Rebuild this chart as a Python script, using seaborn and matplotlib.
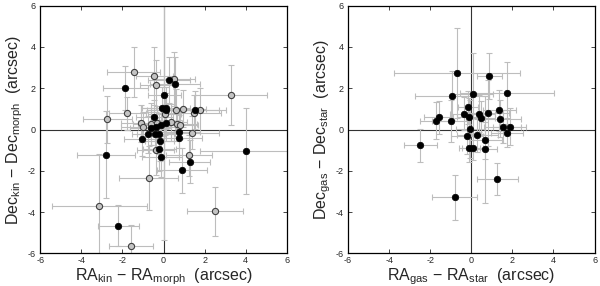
import numpy as np
import pandas as pd
import matplotlib
matplotlib.use('Agg')
import matplotlib.pyplot as plt
import seaborn as sns

# ── Left panel: kinematic vs morphological centre offsets ─────
kin_x = [-1.45, -0.46, -0.36, 0.53, -1.76, -2.73, 3.28, 0.96, 0.59, 1.80,
         1.48, 0.06, -1.09, -0.98, -0.60, 0.36, 0.65, 0.78, 1.38, -0.38,
         1.24, -0.72, -3.12, 2.51, -1.56, -0.33,
         -1.85, 0.27, 0.56, 0.04, -0.05, 0.10, 0.12, 1.53, -0.45, 0.12,
         -0.14, -0.36, -0.62, -0.74, -0.40, -0.24, -1.03, -0.19, 0.77, 0.75,
         -0.20, -0.14, -2.79, 1.27, 4.00, 0.90, -2.21]
kin_y = [2.80, 2.60, 2.15, 2.44, 0.79, 0.50, 1.67, 1.01, 0.95, 0.93,
         0.79, 0.75, 0.30, 0.14, 0.27, 0.35, 0.25, 0.22, -0.15, -1.01,
         -1.24, -2.37, -3.70, -3.96, -5.62, 0.33,
         2.03, 2.40, 2.22, 1.67, 1.05, 1.05, 0.95, 0.95, 0.62, 0.34,
         0.23, 0.14, 0.07, -0.22, -0.23, -0.20, -0.48, -0.54, -0.10, -0.43,
         -0.93, -1.32, -1.22, -1.55, -1.04, -1.98, -4.65]
kin_xerr = [1.30, 0.90, 0.80, 1.00, 0.90, 1.20, 1.75, 1.10, 1.20, 0.90,
            1.30, 0.80, 1.00, 1.10, 0.90, 0.80, 1.00, 0.90, 1.30, 0.90,
            1.10, 1.43, 2.30, 1.35, 1.07, 0.90,
            1.10, 1.00, 1.20, 0.80, 1.00, 1.20, 0.90, 1.50, 0.90, 0.80,
            1.00, 0.90, 1.00, 0.80, 0.90, 0.80, 0.90, 0.70, 1.00, 1.10,
            0.80, 0.90, 1.40, 1.00, 2.20, 1.20, 1.00]
kin_yerr = [1.20, 1.40, 1.20, 1.30, 0.80, 1.15, 1.45, 0.90, 1.00, 1.10,
            0.90, 1.00, 0.90, 0.70, 1.00, 0.90, 0.80, 0.70, 0.80, 1.20,
            1.00, 1.55, 2.50, 1.20, 1.00, 0.80,
            1.07, 1.10, 1.30, 7.00, 1.00, 1.00, 0.80, 0.90, 0.80, 0.90,
            0.80, 0.70, 0.80, 0.90, 0.80, 1.00, 0.80, 1.00, 0.80, 0.90,
            1.10, 1.00, 2.10, 1.05, 2.10, 1.10, 1.00]
kin_kind = ['open'] * 26 + ['filled'] * 27

# ── Right panel: gas vs stellar centre offsets ─────────────────
gas_x = [-0.70, 0.87, -0.95, 0.07, 1.74, -0.17, -0.36, -0.12, -1.58, -1.71,
         -1.00, 0.36, 0.46, 0.83, 1.37, 1.42, 1.52, 1.86, -0.04, -0.21,
         0.28, 1.74, -2.49, -0.10, 0.06, 0.67, 0.65, 1.27, -0.80]
gas_y = [2.74, 2.60, 1.64, 1.74, 1.77, 1.09, 0.77, 0.62, 0.59, 0.43,
         0.41, 0.77, 0.57, 0.80, 0.93, 0.52, 0.14, 0.14, 0.02, -0.30,
         -0.27, -0.15, -0.77, -0.88, -0.88, -0.52, -0.95, -2.40, -3.29]
gas_xerr = [3.07, 0.60, 1.80, 1.00, 2.30, 0.50, 0.70, 0.60, 0.70, 0.80,
            0.90, 0.80, 0.70, 1.00, 0.80, 1.00, 0.90, 0.80, 0.70, 0.80,
            1.00, 0.80, 0.80, 0.50, 0.50, 0.80, 0.60, 1.00, 1.10]
gas_yerr = [2.17, 1.10, 1.20, 1.95, 1.50, 0.80, 0.80, 0.90, 0.80, 0.90,
            1.00, 0.90, 0.80, 1.60, 1.00, 0.90, 0.80, 0.90, 1.40, 0.90,
            0.80, 0.70, 0.80, 0.70, 0.60, 0.90, 2.60, 0.78, 1.10]

kin = pd.DataFrame({'x': kin_x, 'y': kin_y, 'xerr': kin_xerr,
                    'yerr': kin_yerr, 'kind': kin_kind})
gas = pd.DataFrame({'x': gas_x, 'y': gas_y, 'xerr': gas_xerr,
                    'yerr': gas_yerr, 'kind': 'filled'})

sns.set_style("ticks")
plt.rcParams['font.family'] = ['Liberation Sans', 'DejaVu Sans']
plt.rcParams['mathtext.default'] = 'regular'
plt.rcParams['axes.unicode_minus'] = False

fig = plt.figure(figsize=(6, 2.86), dpi=100)
ax1 = fig.add_axes([0.067, 0.114, 0.411, 0.866])
ax2 = fig.add_axes([0.580, 0.114, 0.411, 0.866])

ERR_COLOR = '#bdbdbd'


def draw_panel(ax, df, xlabel, ylabel):
    ax.errorbar(df['x'], df['y'], xerr=df['xerr'], yerr=df['yerr'],
                fmt='none', ecolor=ERR_COLOR, elinewidth=0.8,
                capsize=2.2, capthick=0.8, zorder=2)
    ax.axhline(0, color='#333333', lw=0.8, zorder=1)
    ax.axvline(0, color='#333333', lw=0.8, zorder=1)
    op = df[df['kind'] == 'open']
    fi = df[df['kind'] == 'filled']
    if len(op):
        sns.scatterplot(data=op, x='x', y='y', ax=ax, s=20, color='#c4c4c4',
                        edgecolor='#404040', linewidth=0.8, zorder=3,
                        legend=False)
    sns.scatterplot(data=fi, x='x', y='y', ax=ax, s=22, color='black',
                    edgecolor='black', linewidth=0.5, zorder=4, legend=False)
    ax.set_xlim(-6, 6)
    ax.set_ylim(-6, 6)
    ax.set_xticks(np.arange(-6, 7, 2))
    ax.set_yticks(np.arange(-6, 7, 2))
    ax.tick_params(direction='in', top=True, right=True, length=3,
                   width=0.6, labelsize=6.5)
    ax.tick_params(axis='x', pad=2)
    ax.tick_params(axis='y', pad=3)
    for sp in ax.spines.values():
        sp.set_linewidth(0.9)
        sp.set_color('black')
    ax.set_xlabel(xlabel, fontsize=11.5, labelpad=1)
    ax.set_ylabel(ylabel, fontsize=11.5, labelpad=2)


draw_panel(ax1, kin,
           r'RA$_{kin}$ $-$ RA$_{morph}$  (arcsec)',
           r'Dec$_{kin}$ $-$ Dec$_{morph}$  (arcsec)')
draw_panel(ax2, gas,
           r'RA$_{gas}$ $-$ RA$_{star}$  (arcsec)',
           r'Dec$_{gas}$ $-$ Dec$_{star}$  (arcsec)')

fig.savefig('out.png', dpi=100)
